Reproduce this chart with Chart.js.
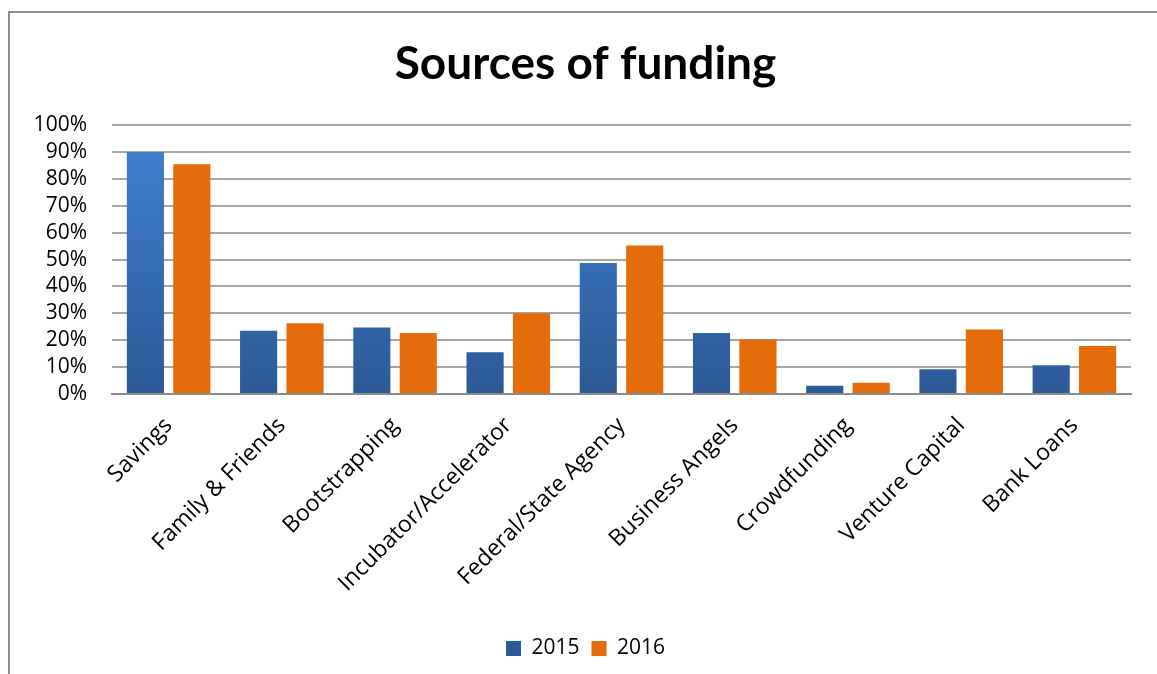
<!DOCTYPE html>
<html>
<head>
  <title>Sources of funding</title>
  <script src="https://cdn.jsdelivr.net/npm/chart.js"></script>
  <style>
    html, body { margin: 0; padding: 0; background: #fff; overflow: hidden; }
    #frame { position: absolute; left: 8px; top: 11px; width: 1200px; height: 700px;
             border: 2px solid #8e8e8e; box-sizing: border-box; }
    #wrap { position: absolute; left: 0; top: 0; width: 1157px; height: 674px; }
  </style>
</head>
<body>
  <div id="frame"></div>
  <div id="wrap"><canvas id="chart"></canvas></div>

  <script>
    const categories = ['Savings', 'Family & Friends', 'Bootstrapping', 'Incubator/Accelerator',
      'Federal/State Agency', 'Business Angels', 'Crowdfunding', 'Venture Capital', 'Bank Loans'];
    const values2015 = [0.90, 0.235, 0.247, 0.155, 0.487, 0.227, 0.031, 0.092, 0.107];
    const values2016 = [0.855, 0.263, 0.227, 0.30, 0.552, 0.203, 0.042, 0.24, 0.179];
    const yTicks = [0, 0.1, 0.2, 0.3, 0.4, 0.5, 0.6, 0.7, 0.8, 0.9, 1.0];

    const FONT = '"Open Sans", Lato, sans-serif';

    function blueGradient(context) {
      const area = context.chart.chartArea;
      if (!area) return '#3a78c4';
      const g = context.chart.ctx.createLinearGradient(0, area.top, 0, area.bottom);
      g.addColorStop(0, '#3f82d2');
      g.addColorStop(1, '#2c5a96');
      return g;
    }

    // title and legend sit centred on the whole frame, not on the plot
    const centreShift = {
      id: 'centreShift',
      afterLayout(chart) {
        const dx = 20;
        chart.legend.left += dx;
        chart.legend.right += dx;
        chart.titleBlock.left += dx;
        chart.titleBlock.right += dx;
      }
    };

    const ctx = document.getElementById('chart').getContext('2d');

    const chart = new Chart(ctx, {
      type: 'bar',
      data: {
        labels: categories,
        datasets: [{
          label: '2015',
          data: values2015,
          backgroundColor: blueGradient,
          categoryPercentage: 0.82,
          barPercentage: 0.8
        }, {
          label: '2016',
          data: values2016,
          backgroundColor: '#e46c0a',
          categoryPercentage: 0.82,
          barPercentage: 0.8
        }]
      },
      plugins: [centreShift],
      options: {
        responsive: true,
        maintainAspectRatio: false,
        animation: false,
        layout: { padding: { left: 0, right: 26, top: 0, bottom: 5 } },
        plugins: {
          title: {
            display: true,
            text: 'Sources of funding',
            color: '#000',
            font: { family: 'Lato, sans-serif', size: 46, weight: 'bold' },
            padding: { top: 37, bottom: 33 }
          },
          legend: {
            position: 'bottom',
            labels: {
              color: '#000',
              boxWidth: 15,
              boxHeight: 15,
              padding: 12,
              font: { family: FONT, size: 21 }
            }
          },
          tooltip: { enabled: false }
        },
        scales: {
          x: {
            grid: { display: false },
            border: { color: '#8c8c8c', width: 2 },
            ticks: {
              color: '#000',
              font: { family: FONT, size: 23 },
              minRotation: 45,
              maxRotation: 45,
              autoSkip: false,
              padding: 10
            },
            afterFit(scale) { scale.height = 232; }
          },
          y: {
            min: 0,
            max: 1,
            afterBuildTicks(scale) { scale.ticks = yTicks.map(v => ({ value: v })); },
            afterFit(scale) { scale.width = 112; },
            grid: { color: '#a6a6a6', lineWidth: 2, drawTicks: false },
            border: { display: false },
            ticks: {
              color: '#000',
              font: { family: FONT, size: 21 },
              autoSkip: false,
              padding: 25,
              callback: v => Math.round(v * 100) + '%'
            }
          }
        }
      }
    });
  </script>
</body>
</html>
